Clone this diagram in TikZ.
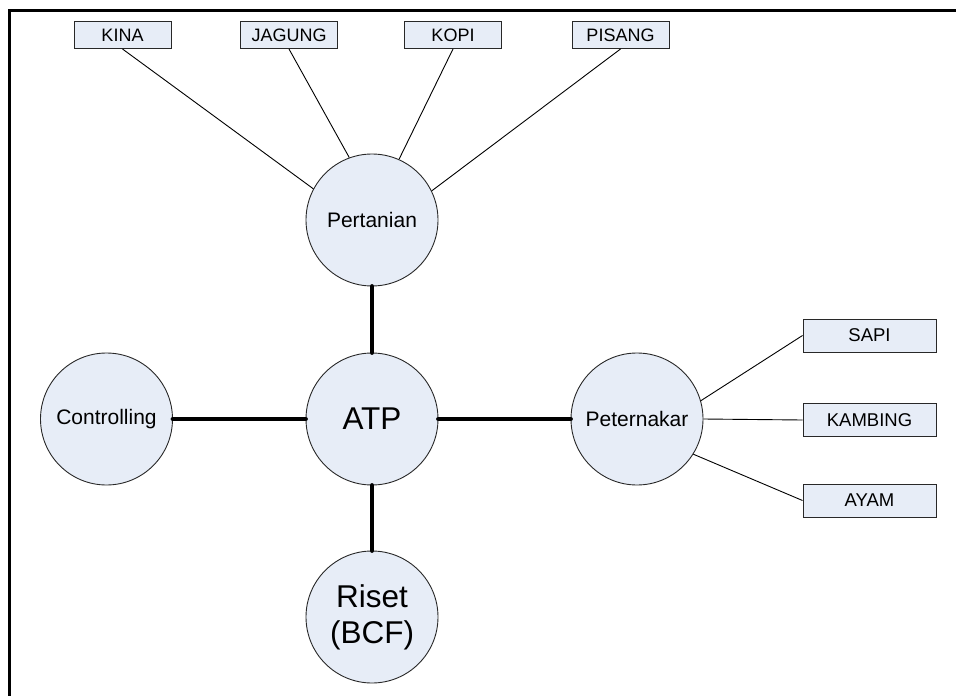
\documentclass[tikz,border=0pt]{standalone}
\usepackage{fontspec}
\setmainfont{Liberation Sans}
\definecolor{fillblue}{RGB}{231,237,247}
\definecolor{edge}{RGB}{40,40,40}
\tikzset{
  circ/.style={circle, draw=edge, line width=0.9pt, fill=fillblue, minimum size=132pt, inner sep=0pt, font=\fontsize{21}{24}\selectfont},
  bigcirc/.style={circ, font=\fontsize{31.5}{36}\selectfont, align=center},
  topbox/.style={rectangle, draw=edge, line width=1pt, fill=fillblue, minimum width=97pt, minimum height=27pt, inner sep=0pt, font=\fontsize{18}{20}\selectfont},
  sidebox/.style={rectangle, draw=edge, line width=1pt, fill=fillblue, minimum width=133pt, minimum height=33pt, inner sep=0pt, font=\fontsize{18.5}{21}\selectfont},
  thick link/.style={line width=4.8pt, line cap=round},
  thin link/.style={line width=0.9pt},
  frame/.style={line width=3pt}
}
\begin{document}
\begin{tikzpicture}[x=1pt, y=-1pt]
\useasboundingbox (0,0) rectangle (956,696);
% frame (top and left)
\coordinate (fa) at (9.5,696);
\coordinate (fb) at (9.5,10);
\coordinate (fc) at (956,10);
\draw[frame] (fa) -- (fb) -- (fc);

% circles
\node[circ] (pert) at (372,220) {Pertanian};
\node[bigcirc] (atp) at (372,419) {ATP};
\node[circ] (ctrl) at (106.5,419) {Controlling};
\node[circ] (peter) at (637,419) {Peternakar};
\node[bigcirc] (riset) at (372,617) {Riset\\(BCF)};

% top boxes
\node[topbox] (kina) at (122.5,35) {KINA};
\node[topbox] (jagung) at (289,35) {JAGUNG};
\node[topbox] (kopi) at (453,35) {KOPI};
\node[topbox] (pisang) at (620.5,35) {PISANG};

% side boxes
\node[sidebox] (sapi) at (869.5,335.5) {SAPI};
\node[sidebox] (kambing) at (869.5,420) {KAMBING};
\node[sidebox] (ayam) at (869.5,500.5) {AYAM};

% thick links
\draw[thick link] (pert.south) -- (atp.north);
\draw[thick link] (atp.west) -- (ctrl.east);
\draw[thick link] (atp.east) -- (peter.west);
\draw[thick link] (atp.south) -- (riset.north);

% thin links
\draw[thin link] (kina.south) -- (pert.152);
\draw[thin link] (jagung.south) -- (pert.110);
\draw[thin link] (kopi.south) -- (pert.66);
\draw[thin link] (pisang.south) -- (pert.26);
\draw[thin link] (peter.16) -- (sapi.west);
\draw[thin link] (peter.east) -- (kambing.west);
\draw[thin link] (peter.-32) -- (ayam.west);
\end{tikzpicture}
\end{document}
